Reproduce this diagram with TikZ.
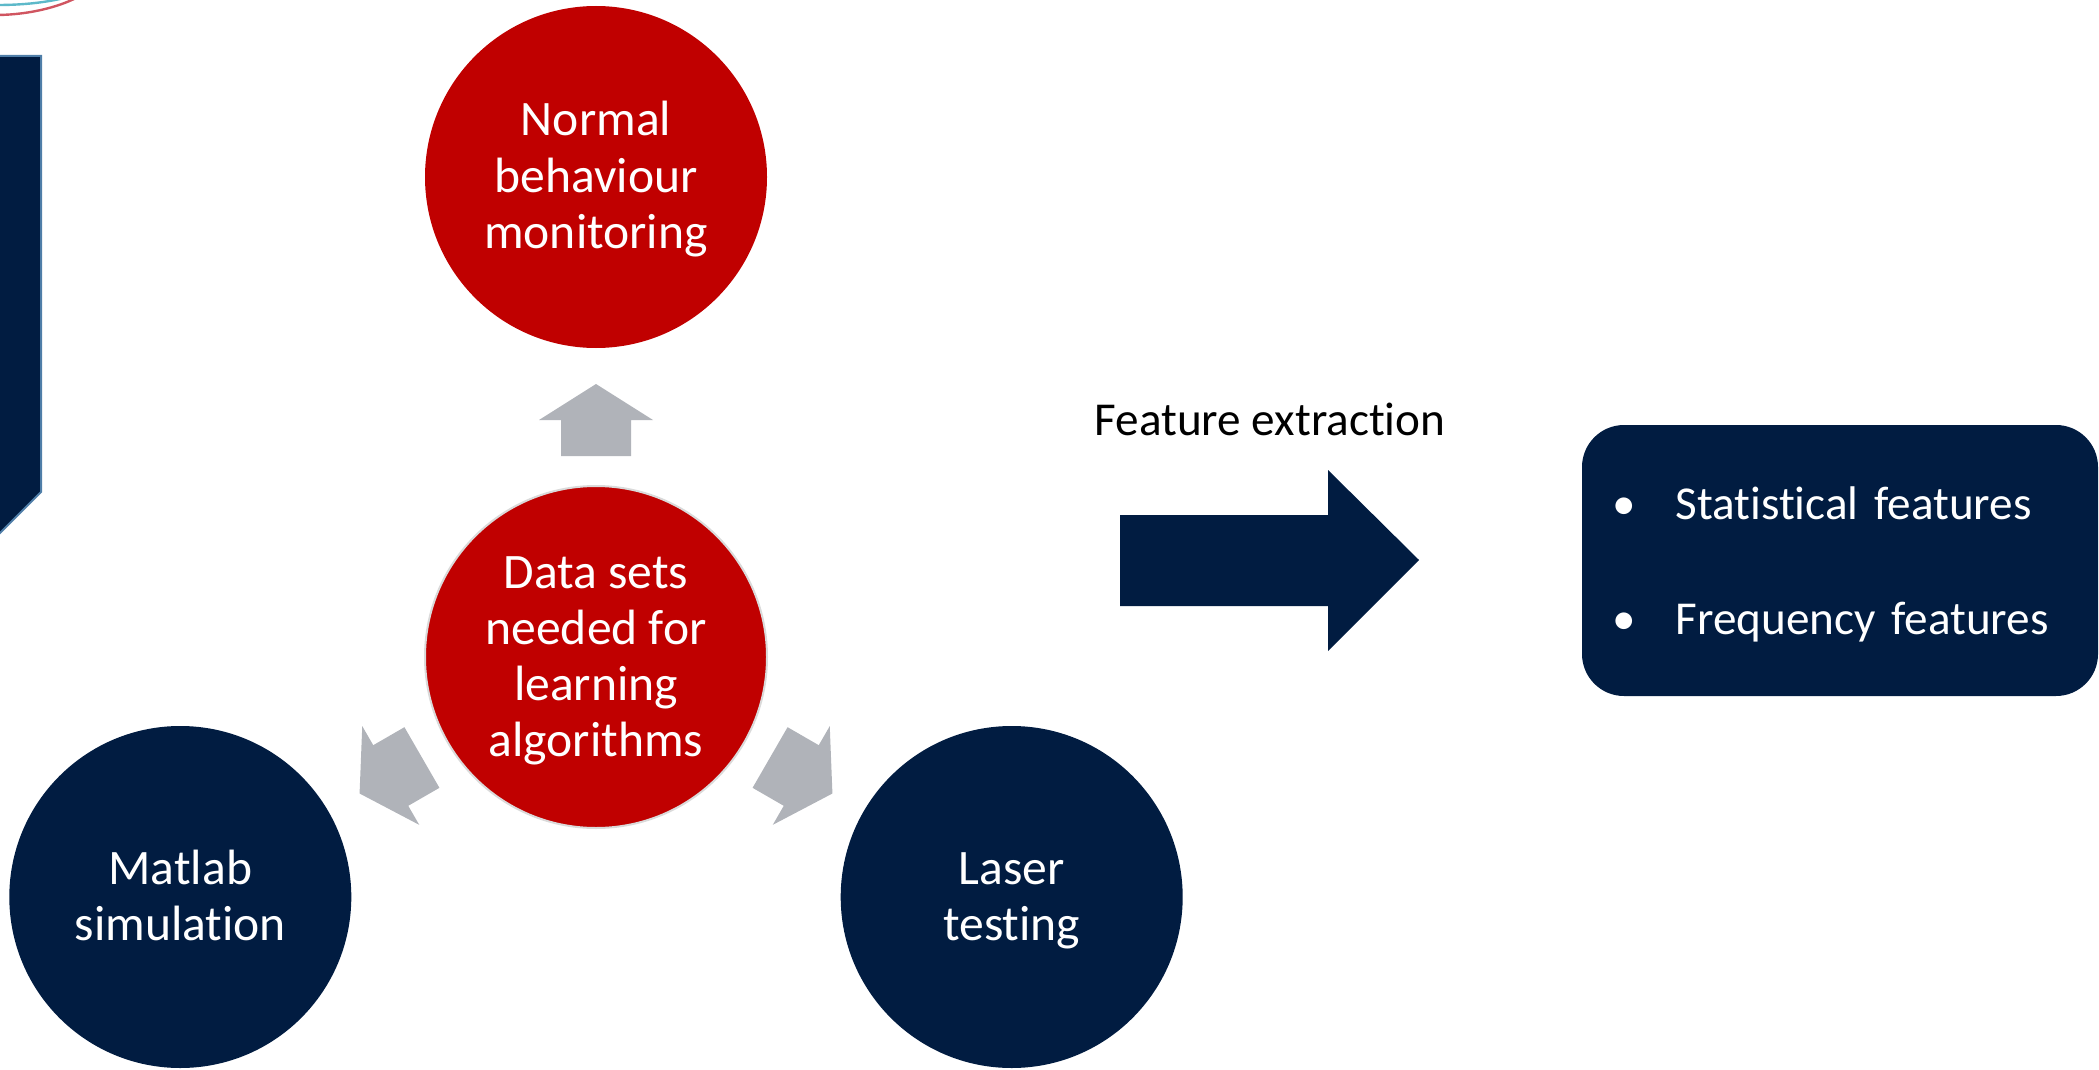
\documentclass[tikz,border=0pt]{standalone}
\usepackage{fontspec}
\setmainfont{Carlito}[Ligatures=NoCommon]
\usetikzlibrary{calc}
\definecolor{navy}{HTML}{011C41}
\definecolor{darkred}{HTML}{C00000}
\definecolor{arrowgray}{HTML}{B0B3B9}
\definecolor{ringgray}{HTML}{DADADA}
\definecolor{edgeblue}{HTML}{4F7EA8}
\definecolor{logocyan}{HTML}{5DB9C9}
\definecolor{logored}{HTML}{D05560}
\newcommand\bstrut{\rule[-6.5pt]{0pt}{28pt}}
\begin{document}
\begin{tikzpicture}[x=0.5pt,y=-0.5pt,
  bubble/.style={circle,minimum size=171pt,inner sep=0pt,align=center,text=white,font=\fontsize{24.8}{28}\selectfont},
  featbox/.style={rectangle,rounded corners=21pt,fill=navy,text=white,minimum width=258pt,minimum height=135.5pt,text width=228pt,inner xsep=15pt,align=left,font=\fontsize{23.6}{28.3}\selectfont}]
\useasboundingbox (0,0) rectangle (2099,1070);
\clip (0,0) rectangle (2099,1070);
% logo and side banner, cut by the edge
\draw[logocyan,line width=1.2pt] (-2,5) .. controls (25,5) and (48,2) .. (64,-2);
\draw[logored,line width=1.2pt] (-2,15) .. controls (30,14.5) and (58,7) .. (76,-2);
\draw[fill=navy,draw=edgeblue,line width=1pt] (-10,56) -- (41,56) -- (41,492) -- (-10,543);
\node[bubble,fill=darkred,draw=ringgray,line width=1pt] (data) at (596,657) {\bstrut Data sets\\needed for\\learning\\algorithms\bstrut};
\node[bubble,fill=darkred] (normal) at ($(data)+(-90:480)$) {\bstrut Normal\\behaviour\\monitoring\bstrut};
\node[bubble,fill=navy] (matlab) at ($(data)+(-210:480)$) {\bstrut Matlab\\simulation\bstrut};
\node[bubble,fill=navy] (laser) at ($(data)+(-330:480)$) {\bstrut Laser\\testing\bstrut};
\foreach \a in {90,210,330}
  \fill[arrowgray,shift={($(data)+(-\a:237)$)},rotate=\a-90] (0,-36) -- (57,0) -- (35,0) -- (35,36) -- (-35,36) -- (-35,0) -- (-57,0) -- cycle;
\fill[navy] (1120,515) -- (1328,515) -- (1328,470) -- (1419,560) -- (1328,651) -- (1328,606) -- (1120,606) -- cycle;
\node[font=\fontsize{23.6}{28.3}\selectfont] (extract) at (1270,419) {Feature extraction};
\node[featbox] (features) at (1840,560.5) {\begin{tabular}{@{}l@{\hspace{20pt}}l@{}}\rule{0pt}{24.8pt}\textbullet & Statistical features\\[29.2pt] \textbullet & Frequency features\end{tabular}};
\end{tikzpicture}
\end{document}
